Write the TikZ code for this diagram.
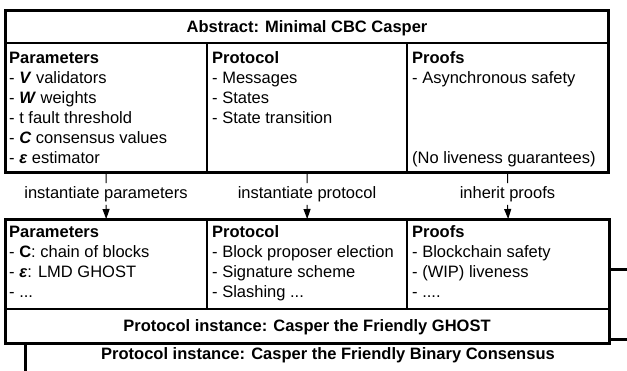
\documentclass[tikz,border=0pt]{standalone}
\usepackage{fontspec}
\setmainfont{Liberation Sans}
\usetikzlibrary{arrows.meta}
\begin{document}
\begin{tikzpicture}[x=1pt,y=-1pt,
  outer/.style={line width=3pt},
  inner/.style={line width=2pt},
  cell/.style={draw=none,anchor=north west,inner sep=0pt,minimum height=#1},
  txt/.style={font=\fontsize{16.5}{20}\selectfont,align=left,anchor=north west,inner sep=0pt},
  ttl/.style={font=\bfseries\fontsize{16.5}{20}\selectfont,anchor=base,inner sep=0pt},
  lbl/.style={font=\fontsize{16.5}{20}\selectfont,text height=12pt,text depth=3.5pt,inner xsep=2pt,inner ysep=3pt},
  flow/.style={line width=1pt},
  arr/.style={line width=1pt,-{Triangle[width=7pt,length=10pt]}}]
\useasboundingbox (0,0) rectangle (627,370);
% behind box (Binary Consensus)
\draw[outer] (609,269) -- (632,269);
\draw[outer] (609,339) -- (632,339);
\draw[outer] (25,343) -- (25,373);
\node[ttl] (bin) at (328,359) {Protocol instance: Casper the Friendly Binary Consensus};
% top box
\node[cell=129pt,minimum width=202pt] (t1) at (5,43) {};
\node[cell=129pt,minimum width=200pt] (t2) at (207,43) {};
\node[cell=129pt,minimum width=201pt] (t3) at (407,43) {};
\draw[inner] (5,43) -- (608,43);
\draw[inner] (207,43) -- (207,172);
\draw[inner] (407,43) -- (407,172);
\draw[outer] (5,10) rectangle (608,172);
\node[ttl] (abs) at (307,32) {Abstract: Minimal CBC Casper};
\node[txt] (t1txt) at (9,49) {\strut\textbf{Parameters}\\- \textbf{\textit{V}} validators\\- \textbf{\textit{W}} weights\\- t fault threshold\\- \textbf{\textit{C}} consensus values\\- \textbf{\textit{ε}} estimator};
\node[txt] (t2txt) at (212,49) {\strut\textbf{Protocol}\\- Messages\\- States\\- State transition};
\node[txt] (t3txt) at (412,49) {\strut\textbf{Proofs}\\- Asynchronous safety};
\node[font=\fontsize{16.5}{20}\selectfont,anchor=base west,inner sep=0pt] (nolive) at (412,163) {(No liveness guarantees)};
% bottom box
\node[cell=90pt,minimum width=202pt] (b1) at (5,219) {};
\node[cell=90pt,minimum width=200pt] (b2) at (207,219) {};
\node[cell=90pt,minimum width=202pt] (b3) at (407,219) {};
\draw[inner] (5,309) -- (609,309);
\draw[inner] (207,219) -- (207,309);
\draw[inner] (407,219) -- (407,309);
\draw[outer] (5,219) rectangle (609,343);
\node[ttl] (ghost) at (307,331) {Protocol instance: Casper the Friendly GHOST};
\node[txt] (b1txt) at (9,223) {\strut\textbf{Parameters}\\- \textbf{C}: chain of blocks\\- \textbf{\textit{ε}}: LMD GHOST\\- ...};
\node[txt] (b2txt) at (212,223) {\strut\textbf{Protocol}\\- Block proposer election\\- Signature scheme\\- Slashing ...};
\node[txt] (b3txt) at (412,223) {\strut\textbf{Proofs}\\- Blockchain safety\\- (WIP) liveness\\- ....};
% arrows
\node[lbl] (l1) at (106,194) {instantiate parameters};
\node[lbl] (l2) at (307,194) {instantiate protocol};
\node[lbl] (l3) at (507.5,194) {inherit proofs};
\draw[flow] (t1.south) -- (l1.north);
\draw[flow] (t2.south) -- (l2.north);
\draw[flow] (t3.south) -- (l3.north);
\draw[arr] (l1.south) -- (b1.north);
\draw[arr] (l2.south) -- (b2.north);
\draw[arr] (l3.south) -- (b3.north);
\end{tikzpicture}
\end{document}
